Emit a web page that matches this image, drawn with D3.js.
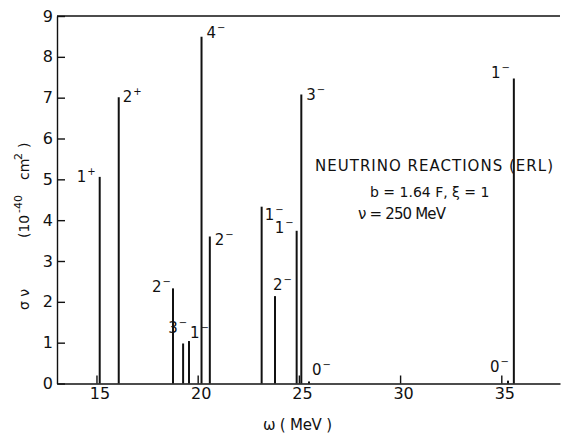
<!DOCTYPE html>
<html>
<head>
<meta charset="utf-8">
<script src="https://cdn.jsdelivr.net/npm/d3@7"></script>
<style>
  html, body { margin: 0; padding: 0; background: #fff; }
  svg { display: block; }
  text { font-family: "DejaVu Sans", "Liberation Sans", sans-serif; fill: #111; }
</style>
</head>
<body>
<svg id="chart" width="563" height="433"></svg>
<script>
// Excitation energies (MeV) of the final states
const energies = [15.16, 16.10, 18.78, 19.28, 19.57, 20.19, 20.60, 23.16, 23.82, 24.89, 25.12, 25.50, 35.33, 35.62];
// Cross sections sigma_nu (10^-40 cm^2)
const sigmas   = [5.06, 7.01, 2.33, 0.98, 1.04, 8.49, 3.60, 4.33, 2.14, 3.74, 7.08, 0.05, 0.07, 7.47];
// Spin and parity of each state
const spins    = ["1", "2", "2", "3", "1", "4", "2", "1", "2", "1", "3", "0", "0", "1"];
const parities = ["+", "+", "−", "−", "−", "−", "−", "−", "−", "−", "−", "−", "−", "−"];

const xTicks = [15, 20, 25, 30, 35];
const yTicks = [0, 1, 2, 3, 4, 5, 6, 7, 8, 9];

// Where each J^pi label sits relative to the top of its line
const labelPlace = [
  { dx: -4, dy: 5,   anchor: "end" },
  { dx: 4,  dy: 5,   anchor: "start" },
  { dx: -2, dy: 4,   anchor: "end" },
  { dx: 4,  dy: -10, anchor: "end" },
  { dx: 1,  dy: -3,  anchor: "start" },
  { dx: 5,  dy: 1,   anchor: "start" },
  { dx: 5,  dy: 8,   anchor: "start" },
  { dx: 3,  dy: 13,  anchor: "start" },
  { dx: -2, dy: -6,  anchor: "start" },
  { dx: -3, dy: 2,   anchor: "end" },
  { dx: 5,  dy: 6,   anchor: "start" },
  { dx: 3,  dy: -6,  anchor: "start" },
  { dx: 1,  dy: -9,  anchor: "end" },
  { dx: -4, dy: 0,   anchor: "end" }
];

const svg = d3.select("#chart");
const plotLeft = 57, plotRight = 560, plotTop = 16, plotBottom = 383.5;

const x = d3.scaleLinear().domain([13.05, 37.9]).range([plotLeft, plotRight]);
const y = d3.scaleLinear().domain([0, 9]).range([plotBottom, plotTop]);

// Axes with ticks pointing into the plot
const gx = svg.append("g")
  .attr("transform", `translate(0,${plotBottom})`)
  .call(d3.axisBottom(x).tickValues(xTicks).tickSizeInner(-8).tickSizeOuter(0).tickPadding(4));
gx.selectAll("text").attr("dx", 3).style("font-size", "16px").style("font-family", "DejaVu Sans");

const gy = svg.append("g")
  .attr("transform", `translate(${plotLeft},0)`)
  .call(d3.axisLeft(y).tickValues(yTicks).tickSizeInner(-8).tickSizeOuter(0).tickPadding(4));
gy.selectAll("text").style("font-size", "16px").style("font-family", "DejaVu Sans");

svg.selectAll(".domain, .tick line").attr("stroke", "#111").attr("stroke-width", 1.4);

// Frame line along the top
svg.append("line")
  .attr("x1", plotLeft).attr("x2", plotRight)
  .attr("y1", y(9)).attr("y2", y(9))
  .attr("stroke", "#111").attr("stroke-width", 1.4);

// Strength lines
const states = energies.map((e, i) => ({ e, s: sigmas[i], j: spins[i], p: parities[i], pl: labelPlace[i] }));

svg.append("g").selectAll("line")
  .data(states)
  .join("line")
  .attr("x1", d => x(d.e)).attr("x2", d => x(d.e))
  .attr("y1", y(0)).attr("y2", d => y(d.s))
  .attr("stroke", "#111").attr("stroke-width", 2);

// J^pi labels
const lab = svg.append("g").selectAll("text")
  .data(states)
  .join("text")
  .attr("x", d => x(d.e) + d.pl.dx)
  .attr("y", d => y(d.s) + d.pl.dy)
  .attr("text-anchor", d => d.pl.anchor)
  .style("font-size", "15px");
lab.append("tspan").text(d => d.j);
lab.append("tspan")
  .attr("dy", -7).attr("dx", 1)
  .style("font-size", "10px")
  .text(d => d.p);

// Annotation block
const note = svg.append("g").style("font-size", "15px");
note.append("text").attr("x", 315).attr("y", 171)
  .attr("textLength", 238).attr("lengthAdjust", "spacing")
  .text("NEUTRINO REACTIONS (ERL)");
note.append("text").attr("x", 370).attr("y", 197)
  .style("font-size", "14px")
  .text("b = 1.64 F, ξ = 1");
note.append("text").attr("x", 358).attr("y", 219)
  .attr("textLength", 88).attr("lengthAdjust", "spacing")
  .text("ν = 250 MeV");

// Axis titles
svg.append("text")
  .attr("x", 263).attr("y", 430)
  .attr("textLength", 69).attr("lengthAdjust", "spacing")
  .style("font-size", "15px")
  .text("ω ( MeV )");

const yt = svg.append("text")
  .attr("transform", "translate(29,310) rotate(-90)")
  .style("font-size", "14px");
yt.append("tspan").attr("x", 0).text("σ ν");
yt.append("tspan").attr("x", 72).text("(10");
yt.append("tspan").attr("x", 97).attr("dy", -7).style("font-size", "11px").text("-40");
yt.append("tspan").attr("x", 130).attr("dy", 7).text("cm");
yt.append("tspan").attr("x", 150).attr("dy", -7).style("font-size", "11px").text("2");
yt.append("tspan").attr("x", 162).attr("dy", 7).text(")");
</script>
</body>
</html>
